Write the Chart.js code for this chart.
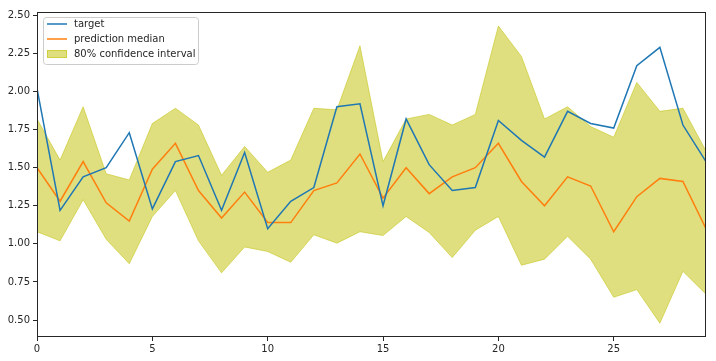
<!DOCTYPE html>
<html>
<head>
<meta charset="utf-8">
<script src="https://cdn.jsdelivr.net/npm/chart.js@4/dist/chart.umd.min.js"></script>
<style>
  html, body { margin: 0; padding: 0; background: #fff; }
  #wrap { width: 716px; height: 361px; }
</style>
</head>
<body>
<div id="wrap"><canvas id="chart" width="716" height="361"></canvas></div>
<script>
// time steps on the x axis
const steps = [0,1,2,3,4,5,6,7,8,9,10,11,12,13,14,15,16,17,18,19,20,21,22,23,24,25,26,27,28,29];
// observed values
const target = [2.02,1.22,1.44,1.50,1.73,1.23,1.54,1.58,1.22,1.60,1.10,1.28,1.37,1.90,1.92,1.25,1.82,1.52,1.35,1.37,1.81,1.68,1.57,1.87,1.79,1.76,2.17,2.29,1.78,1.54];
// forecast median
const median = [1.50,1.28,1.54,1.27,1.15,1.49,1.66,1.35,1.17,1.34,1.14,1.14,1.35,1.40,1.59,1.30,1.50,1.33,1.44,1.50,1.66,1.41,1.25,1.44,1.38,1.08,1.31,1.43,1.41,1.10];
// 80% interval bounds
const lower = [1.08,1.02,1.29,1.03,0.87,1.18,1.35,1.02,0.81,0.98,0.95,0.88,1.06,1.005,1.08,1.055,1.18,1.075,0.91,1.09,1.18,0.86,0.90,1.05,0.90,0.65,0.70,0.48,0.82,0.67];
const upper = [1.82,1.55,1.90,1.46,1.42,1.79,1.89,1.78,1.45,1.64,1.47,1.55,1.89,1.88,2.30,1.54,1.82,1.85,1.78,1.85,2.43,2.23,1.82,1.90,1.77,1.70,2.06,1.87,1.89,1.61];
const yTicks = [0.50,0.75,1.00,1.25,1.50,1.75,2.00,2.25,2.50];
const xTicks = [0,5,10,15,20,25];

const toPoints = (vals) => steps.map((s, i) => ({ x: s, y: vals[i] }));

const FONT = 'DejaVu Sans';
const TEXT = '#262626';
const bandColor = 'rgba(191,191,0,0.5)';

// draws the box around the plot and a matplotlib-like legend
const framePlugin = {
  id: 'frame',
  afterDraw(chart) {
    const { ctx, chartArea: a } = chart;
    ctx.save();
    ctx.strokeStyle = '#262626';
    ctx.lineWidth = 1;
    ctx.strokeRect(Math.round(a.left) + 0.5, Math.round(a.top) + 0.5,
                   Math.round(a.right - a.left) - 1, Math.round(a.bottom - a.top) - 1);

    // legend box
    const bx = 43.5, by = 17.5, bw = 155, bh = 47, r = 3;
    ctx.beginPath();
    ctx.moveTo(bx + r, by);
    ctx.arcTo(bx + bw, by, bx + bw, by + bh, r);
    ctx.arcTo(bx + bw, by + bh, bx, by + bh, r);
    ctx.arcTo(bx, by + bh, bx, by, r);
    ctx.arcTo(bx, by, bx + bw, by, r);
    ctx.closePath();
    ctx.fillStyle = 'rgba(255,255,255,0.8)';
    ctx.fill();
    ctx.strokeStyle = '#cccccc';
    ctx.stroke();

    ctx.font = '10px "' + FONT + '"';
    ctx.fillStyle = TEXT;
    ctx.textBaseline = 'middle';
    const ds = chart.data.datasets;
    const rows = [
      { label: ds[0].label, color: ds[0].borderColor, kind: 'line', y: 24 },
      { label: ds[1].label, color: ds[1].borderColor, kind: 'line', y: 39 },
      { label: ds[3].label, color: bandColor, kind: 'patch', y: 54 }
    ];
    rows.forEach(row => {
      if (row.kind === 'line') {
        ctx.strokeStyle = row.color;
        ctx.lineWidth = 1.5;
        ctx.beginPath();
        ctx.moveTo(47, row.y);
        ctx.lineTo(67, row.y);
        ctx.stroke();
      } else {
        ctx.fillStyle = row.color;
        ctx.fillRect(47, row.y - 4, 20, 8);
        ctx.strokeStyle = row.color;
        ctx.lineWidth = 1;
        ctx.strokeRect(47.5, row.y - 3.5, 19, 7);
      }
      ctx.fillStyle = TEXT;
      ctx.fillText(row.label, 74, row.y + 0.5);
    });
    ctx.restore();
  }
};

new Chart(document.getElementById('chart'), {
  type: 'line',
  data: {
    datasets: [
      {
        label: 'target',
        data: toPoints(target),
        borderColor: '#1f77b4',
        borderWidth: 1.5,
        pointRadius: 0,
        fill: false,
        order: 1
      },
      {
        label: 'prediction median',
        data: toPoints(median),
        borderColor: '#ff7f0e',
        borderWidth: 1.5,
        pointRadius: 0,
        fill: false,
        order: 2
      },
      {
        label: 'lower',
        data: toPoints(lower),
        borderColor: bandColor,
        borderWidth: 1,
        pointRadius: 0,
        fill: false,
        order: 4
      },
      {
        label: '80% confidence interval',
        data: toPoints(upper),
        borderColor: bandColor,
        borderWidth: 1,
        backgroundColor: bandColor,
        pointRadius: 0,
        fill: '-1',
        order: 3
      }
    ]
  },
  options: {
    responsive: false,
    animation: false,
    devicePixelRatio: 1,
    layout: { padding: { left: 0, right: 10, top: 12, bottom: 0 } },
    plugins: {
      legend: { display: false },
      tooltip: { enabled: false }
    },
    scales: {
      x: {
        type: 'linear',
        min: 0,
        max: 29,
        border: { display: false },
        grid: { drawOnChartArea: false, drawTicks: true, tickLength: 4, color: '#262626' },
        afterBuildTicks: (scale) => { scale.ticks = xTicks.map(v => ({ value: v })); },
        afterFit: (scale) => { scale.height = 24; },
        ticks: {
          color: TEXT,
          font: { family: FONT, size: 10 },
          padding: 2,
          maxRotation: 0,
          callback: (v) => String(v)
        }
      },
      y: {
        min: 0.389,
        max: 2.522,
        border: { display: false },
        grid: { drawOnChartArea: false, drawTicks: true, tickLength: 4, color: '#262626' },
        afterBuildTicks: (scale) => { scale.ticks = yTicks.map(v => ({ value: v })); },
        afterFit: (scale) => { scale.width = 37; },
        ticks: {
          color: TEXT,
          font: { family: FONT, size: 10 },
          padding: 3,
          callback: (v) => Number(v).toFixed(2)
        }
      }
    }
  },
  plugins: [framePlugin]
});
</script>
</body>
</html>
